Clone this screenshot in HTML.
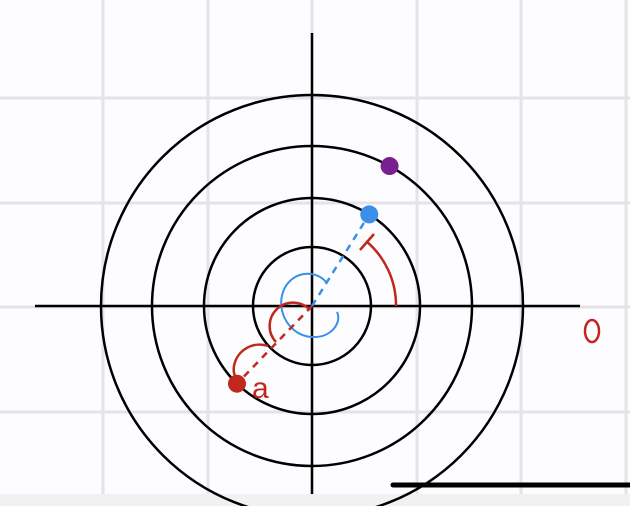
<!DOCTYPE html>
<html><head><meta charset="utf-8"><style>
html,body{margin:0;padding:0;background:#f1f1f3;}
svg{display:block;}
</style></head><body>
<svg id="chart" width="630" height="506" viewBox="0 0 630 506" xmlns="http://www.w3.org/2000/svg">
<rect x="0" y="0" width="630" height="494" fill="#fdfcfe"/>
<g id="grid"></g>
<g id="rings"></g>
<line x1="35" y1="306" x2="580" y2="306" stroke="#000" stroke-width="2.5"/>
<line x1="312" y1="33" x2="312" y2="494" stroke="#000" stroke-width="2.5"/>
<path d="M326,282 C314,268 290,272 283,292 C276,312 290,336 312,337 C332,338 342,322 337,312" fill="none" stroke="#3a8fe8" stroke-width="2"/>
<path d="M396,306 A84,84 0 0 0 366,241 M360,250 L374,234" fill="none" stroke="#c0281e" stroke-width="2.5"/>
<path d="M310,310 A22,22 0 0 0 276,342 M268,346 A26,26 0 0 0 234,366 Q232,378 243,383" fill="none" stroke="#c0281e" stroke-width="2.5"/>
<g id="marks"></g>
<ellipse cx="592" cy="331" rx="7" ry="11" fill="none" stroke="#c0281e" stroke-width="2.5"/>
<text x="252" y="398" font-family="Liberation Sans, sans-serif" font-size="30" fill="#c0281e">a</text>
<line x1="393" y1="485" x2="630" y2="485" stroke="#000" stroke-width="5" stroke-linecap="round"/>
</svg>
<script>
const ringRadii = [1, 2, 3, 4];
const ringPx = [59, 108, 160, 211];
const pointNames = ["blue-point", "purple-point", "red-point"];
const pointRing = [2, 3, 2];
const pointAngleDeg = [58, 61, 226];
const pointColors = ["#3a8fe8", "#7a1f8f", "#c0281e"];
const cx = 312, cy = 306;
const NS = "http://www.w3.org/2000/svg";
function rScale(r){ return ringPx[ringRadii.indexOf(r)]; }
function px(r,a){ return cx + rScale(r)*Math.cos(a*Math.PI/180); }
function py(r,a){ return cy - rScale(r)*Math.sin(a*Math.PI/180); }
const grid = document.getElementById('grid');
[103,208,312,417,521,626].forEach(x=>{
  const l=document.createElementNS(NS,'line');
  l.setAttribute('x1',x);l.setAttribute('x2',x);l.setAttribute('y1',0);l.setAttribute('y2',494);
  l.setAttribute('stroke','#e4e3e8');l.setAttribute('stroke-width','3');
  
  
  grid.appendChild(l);
});
[98,203,307,412].forEach(y=>{
  const l=document.createElementNS(NS,'line');
  l.setAttribute('x1',0);l.setAttribute('x2',630);l.setAttribute('y1',y);l.setAttribute('y2',y);
  l.setAttribute('stroke','#e4e3e8');l.setAttribute('stroke-width','3');
  
  
  grid.appendChild(l);
});
const rings = document.getElementById('rings');
ringRadii.forEach(r=>{
  const c=document.createElementNS(NS,'circle');
  c.setAttribute('cx',cx);c.setAttribute('cy',cy);c.setAttribute('r',rScale(r));
  c.setAttribute('fill','none');c.setAttribute('stroke','#000');c.setAttribute('stroke-width','2.5');
  
  
  rings.appendChild(c);
});
const marks = document.getElementById('marks');
pointRing.forEach((r,i)=>{
  const x=px(r,pointAngleDeg[i]), y=py(r,pointAngleDeg[i]);
  if(i!==1){
    const l=document.createElementNS(NS,'line');
    l.setAttribute('x1',cx);l.setAttribute('y1',cy);l.setAttribute('x2',x);l.setAttribute('y2',y);
    l.setAttribute('stroke',pointColors[i]);l.setAttribute('stroke-width','2.5');l.setAttribute('stroke-dasharray','7 6');
    
    
    marks.appendChild(l);
  }
  const c=document.createElementNS(NS,'circle');
  c.setAttribute('cx',x);c.setAttribute('cy',y);c.setAttribute('r',9);c.setAttribute('fill',pointColors[i]);
  
  
  marks.appendChild(c);
});
</script>
</body></html>
